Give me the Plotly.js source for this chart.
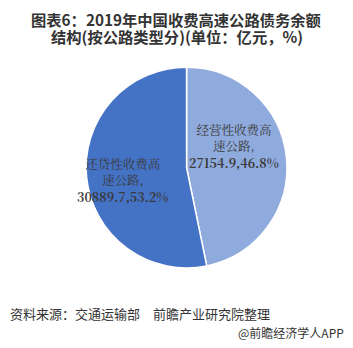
<!DOCTYPE html>
<html>
<head>
<meta charset="utf-8">
<script src="https://cdn.plot.ly/plotly-3.0.1.min.js"></script>
<style>html,body{margin:0;padding:0;background:#fff;}#chart{width:353px;height:348px;}</style>
</head>
<body>
<div id="chart"></div>
<script>
const categories = ['经营性收费高速公路', '还贷性收费高速公路'];
const labelLines = [['经营性收费高', '速公路,'], ['还贷性收费高', '速公路,']];
const values = [27154.9, 30889.7];
const percents = ['46.8%', '53.2%'];
const colors = ['#8FAADC', '#4472C4'];
const titleLines = ['图表6：2019年中国收费高速公路债务余额', '结构(按公路类型分)(单位：亿元，%)'];
const sourceText = '资料来源：交通运输部　前瞻产业研究院整理';
const brandText = '@前瞻经济学人APP';

const trace = {
  type: 'pie',
  labels: categories,
  values: values,
  sort: false,
  direction: 'clockwise',
  rotation: 0,
  marker: {colors: colors, line: {color: '#ffffff', width: 1.5}},
  textinfo: 'none',
  hoverinfo: 'none',
  showlegend: false,
  domain: {x: [0.241, 0.816], y: [0.230, 0.807]}
};

const labelPos = [[234, 146], [122, 181]];
const labelFont = {family: '"Noto Serif CJK SC", "Noto Sans CJK SC", serif', size: 12.5, color: '#3a3a3a'};

const annotations = [
  {text: '<b>' + titleLines[0] + '</b>', x: 0.5, y: 1 - 19/348, xref: 'paper', yref: 'paper', showarrow: false, xanchor: 'center', yanchor: 'middle', font: {family: '"Noto Sans CJK SC", sans-serif', size: 15.3, color: '#333333'}},
  {text: '<b>' + titleLines[1] + '</b>', x: 0.5, y: 1 - 36/348, xref: 'paper', yref: 'paper', showarrow: false, xanchor: 'center', yanchor: 'middle', font: {family: '"Noto Sans CJK SC", sans-serif', size: 15.3, color: '#333333'}},
  {text: sourceText, x: 8/353, y: 1 - 313/348, xref: 'paper', yref: 'paper', showarrow: false, xanchor: 'left', yanchor: 'middle', font: {family: '"Noto Sans CJK SC", sans-serif', size: 13, color: '#333333'}},
  {text: brandText, x: 346/353, y: 1 - 332/348, xref: 'paper', yref: 'paper', showarrow: false, xanchor: 'right', yanchor: 'middle', font: {family: '"Noto Sans CJK SC", sans-serif', size: 12, color: '#333333'}}
];

values.forEach((v, i) => {
  annotations.push({
    text: labelLines[i].join('<br>') + '<br><b>' + v.toFixed(1) + ',' + percents[i] + '</b>',
    x: labelPos[i][0] / 353, y: 1 - labelPos[i][1] / 348,
    xref: 'paper', yref: 'paper', showarrow: false,
    xanchor: 'center', yanchor: 'middle', align: 'center',
    font: labelFont
  });
});

const layout = {
  width: 353, height: 348,
  margin: {l: 0, r: 0, t: 0, b: 0},
  paper_bgcolor: '#ffffff',
  showlegend: false,
  annotations: annotations
};

Plotly.newPlot('chart', [trace], layout, {displayModeBar: false, staticPlot: true});
</script>
</body>
</html>
